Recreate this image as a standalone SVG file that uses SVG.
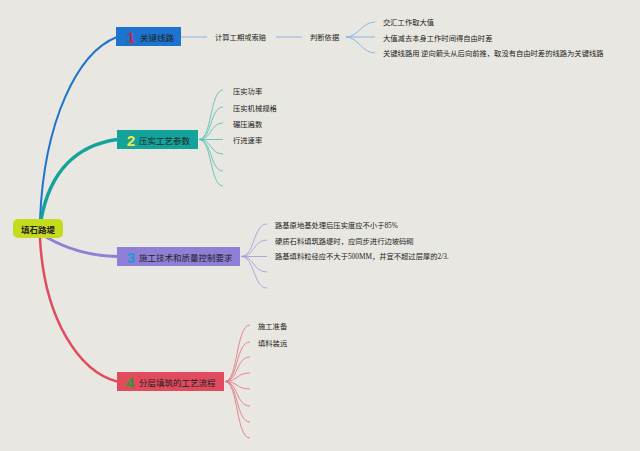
<svg xmlns="http://www.w3.org/2000/svg" width="640" height="451" viewBox="0 0 640 451">
<style>
text{font-family:"Noto Sans CJK SC","Noto Sans",sans-serif;fill:#222;dominant-baseline:central}
.lbl{font-size:8.5px}
.sub{font-size:7.3px}
.ser{font-family:"Liberation Serif","Noto Sans CJK SC",serif}
.num{font-size:15px;font-weight:bold;font-family:"Liberation Sans","Noto Sans",sans-serif}
.c1{fill:none;stroke:#8db6e0;stroke-width:1}
.c2{fill:none;stroke:#5cc2b8;stroke-width:0.9}
.c3{fill:none;stroke:#a99ede;stroke-width:0.9}
.c4{fill:none;stroke:#e07a88;stroke-width:0.9}
</style>
<rect width="640" height="451" fill="#e9e7e1"/>
<g id="connectors">
<path d="M40,220 C44,120 78,52 117,37" fill="none" stroke="#1d74cf" stroke-width="2"/>
<path d="M41,220 C50,170 78,145 117,139.5" fill="none" stroke="#13a39a" stroke-width="3.5"/>
<path d="M46,237 C70,251 95,256 117,256.5" fill="none" stroke="#8f7fd6" stroke-width="3"/>
<path d="M40,238 C44,320 80,372 117,381.5" fill="none" stroke="#e04b5e" stroke-width="2.5"/>
<path class="c1" d="M181,37 H207 M276,37 H302"/>
<path class="c1" d="M346,37 C358,37 362,22 375,22 M346,37 H375 M346,37 C358,37 362,53 375,53"/>
<path class="c2" d="M199,139.5 C212,139.5 210,90 223,90 M199,139.5 C212,139.5 210,107 223,107 M199,139.5 C212,139.5 210,123 223,123 M199,139.5 H223 M199,139.5 C212,139.5 210,154 223,154 M199,139.5 C212,139.5 210,171 223,171 M199,139.5 C212,139.5 210,186 223,186"/>
<path class="c3" d="M241,256.5 C255,256.5 253,224 267,224 M241,256.5 C255,256.5 253,240 267,240 M241,256.5 H267 M241,256.5 C255,256.5 253,272 267,272 M241,256.5 C255,256.5 253,288 267,288"/>
<path class="c4" d="M225,381.5 C238,381.5 236,325 250,325 M225,381.5 C238,381.5 236,342 250,342 M225,381.5 C238,381.5 236,357 250,357 M225,381.5 C238,381.5 236,373 250,373 M225,381.5 C238,381.5 236,389 250,389 M225,381.5 C238,381.5 236,406 250,406 M225,381.5 C238,381.5 236,422 250,422 M225,381.5 C238,381.5 236,438 250,438"/>
</g>
<g id="root">
<rect x="13" y="219" width="50" height="19" rx="5" fill="#c4db1e"/>
<text x="38" y="228.5" class="lbl" text-anchor="middle" font-weight="bold">填石路堤</text>
</g>
<g id="n1">
<rect x="116" y="27" width="65" height="19" fill="#1d74cf"/>
<text x="131" y="37" class="num" text-anchor="middle" style="fill:#c8264a">1</text>
<text x="140" y="37" class="lbl">关键线路</text>
</g>
<g id="n1a"><text x="215" y="37" class="sub">计算工期或索赔</text></g>
<g id="n1b"><text x="310" y="37" class="sub">判断依据</text></g>
<g id="n1c"><text x="383" y="22" class="sub">交汇工作取大值</text></g>
<g id="n1d"><text x="383" y="37.5" class="sub">大值减去本身工作时间得自由时差</text></g>
<g id="n1e"><text x="383" y="53" class="sub">关键线路用 逆向箭头从后向前推，取没有自由时差的线路为关键线路</text></g>
<g id="n2">
<rect x="117" y="130" width="81" height="19" fill="#13a39a"/>
<text x="131" y="140" class="num" text-anchor="middle" style="fill:#f2e34a">2</text>
<text x="139" y="139.5" class="lbl">压实工艺参数</text>
</g>
<g id="n2a"><text x="233" y="91" class="sub">压实功率</text></g>
<g id="n2b"><text x="233" y="108" class="sub">压实机械规格</text></g>
<g id="n2c"><text x="233" y="124" class="sub">碾压遍数</text></g>
<g id="n2d"><text x="233" y="139.5" class="sub">行进速率</text></g>
<g id="n3">
<rect x="117" y="247" width="123" height="19" fill="#8f7fd6"/>
<text x="131" y="257" class="num" text-anchor="middle" style="fill:#1e9ad6">3</text>
<text x="139" y="256.5" class="lbl">施工技术和质量控制要求</text>
</g>
<g id="n3a"><text x="275" y="225" class="sub ser">路基原地基处理后压实度应不小于85%</text></g>
<g id="n3b"><text x="275" y="241" class="sub ser">硬质石料填筑路堤时，应同步进行边坡码砌</text></g>
<g id="n3c"><text x="275" y="256.5" class="sub ser">路基填料粒径应不大于500MM，并宜不超过层厚的2/3.</text></g>
<g id="n4">
<rect x="117" y="372" width="107" height="19" fill="#e04b5e"/>
<text x="130" y="382" class="num" text-anchor="middle" style="fill:#2a9a3a">4</text>
<text x="139" y="381.5" class="lbl">分层填筑的工艺流程</text>
</g>
<g id="n4a"><text x="258" y="326" class="sub">施工准备</text></g>
<g id="n4b"><text x="258" y="342.5" class="sub">填料装运</text></g>
</svg>
